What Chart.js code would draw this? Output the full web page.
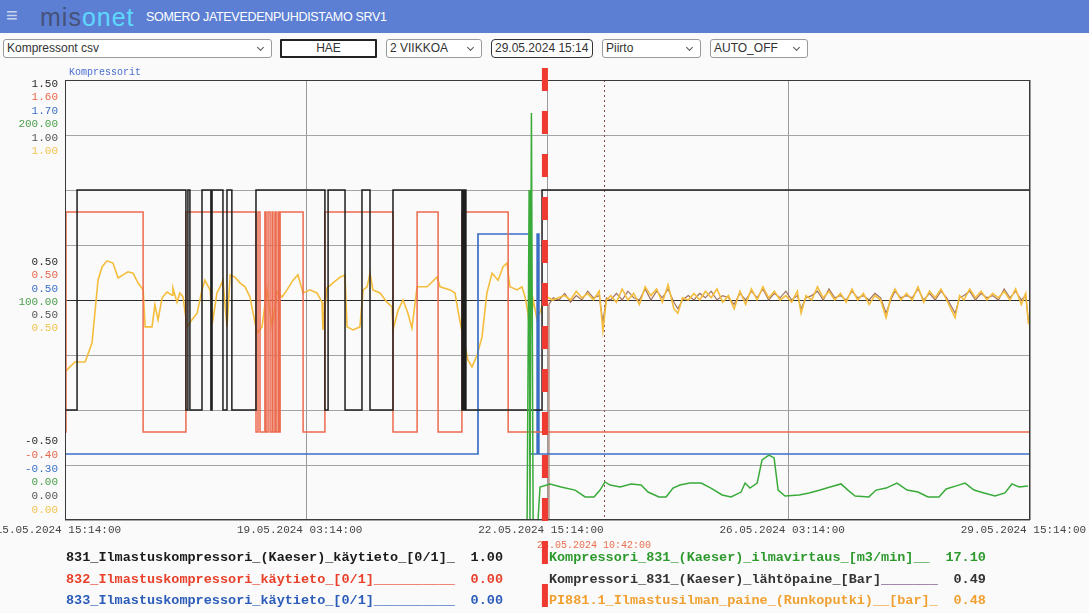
<!DOCTYPE html>
<html lang="fi">
<head>
<meta charset="UTF-8">
<title>SOMERO JATEVEDENPUHDISTAMO SRV1</title>
<script src="https://cdn.jsdelivr.net/npm/chart.js"></script>
<style>
    body {
        margin: 0;
        width: 1089px;
        height: 613px;
        overflow: hidden;
        background: #fafafa;
        font-family: "Liberation Sans", Arial, sans-serif;
        position: relative;
    }
    .hdr {
        position: absolute; left: 0; top: 0; width: 1089px; height: 33px;
        background: #5c7fd3;
    }
    .burger { position: absolute; left: 6px; top: 4px; color: #c9d3ee; font-size: 20px; }
    .logo { position: absolute; left: 40px; top: 3px; font-size: 25px; letter-spacing: 1px; }
    .mis { color: #46527a; }
    .net { color: #5fd8ff; }
    .title { position: absolute; left: 146px; top: 10px; color: #fff; font-size: 12.5px; letter-spacing: -0.3px; }
    .ctl {
        position: absolute; top: 39px; height: 19px; box-sizing: border-box;
        border: 1px solid #9a9a9a; border-radius: 3px; background: #fff;
        font-size: 12px; color: #333; line-height: 17px; padding-left: 3px;
        white-space: nowrap;
    }
    .ctl .arr {
        position: absolute; right: 8px; top: 5px; width: 4px; height: 4px;
        border-right: 1px solid #555; border-bottom: 1px solid #555; transform: rotate(45deg);
    }
    .btn { border: 2px solid #222; border-radius: 1px; text-align: center; padding: 0; line-height: 15px; }
    .inp { border: 1.5px solid #333; border-radius: 4px; }
    #wrap { position: absolute; left: 0; top: 62px; width: 1089px; height: 551px; }
</style>
</head>
<body>
<div class="hdr">
    <span class="burger">&#8801;</span>
    <span class="logo"><span class="mis">mis</span><span class="net">onet</span></span>
    <span class="title">SOMERO JATEVEDENPUHDISTAMO SRV1</span>
</div>
<div class="ctl" style="left:3px;width:269px">Kompressont csv<span class="arr"></span></div>
<div class="ctl btn" style="left:280px;width:97px">HAE</div>
<div class="ctl" style="left:386px;width:96px">2 VIIKKOA<span class="arr"></span></div>
<div class="ctl inp" style="left:491px;width:102px">29.05.2024 15:14</div>
<div class="ctl" style="left:602px;width:99px">Piirto<span class="arr"></span></div>
<div class="ctl" style="left:710px;width:98px">AUTO_OFF<span class="arr"></span></div>
<div id="wrap"><canvas id="trend"></canvas></div>

<script>
// time axis: hours since 15.05.2024 15:14
const xTickHours = [0, 84, 168, 252, 336];
const xTickLabels = ['15.05.2024 15:14:00', '19.05.2024 03:14:00', '22.05.2024 15:14:00',
    '26.05.2024 03:14:00', '29.05.2024 15:14:00'];

// left scale label stacks (one line per series)
const yLabelsTop = ['1.50', '1.60', '1.70', '200.00', '1.00', '1.00'];
const yLabelsMid = ['0.50', '0.50', '0.50', '100.00', '0.50', '0.50'];
const yLabelsBottom = ['-0.50', '-0.40', '-0.30', '0.00', '0.00', '0.00'];

// [hour, state] - state changes of the on/off signals
const k831 = [[0, 0], [4.2, 1], [42.1, 0], [42.8, 1], [43.5, 0], [47.7, 1], [50.8, 0], [51.2, 1],
    [55.0, 0], [56.4, 1], [58.1, 0], [66.5, 1], [90.5, 0], [91.6, 1], [97.5, 0], [103.4, 1],
    [106.2, 0], [114.2, 1], [138.2, 0], [138.6, 1], [139.0, 0], [139.3, 1], [139.6, 0],
    [166.1, 1], [336, 1]];
const k832 = [[0, 0], [0.35, 1], [27.2, 0], [42.1, 1], [66.5, 0], [67.2, 1], [67.9, 0], [69.6, 1],
    [70.0, 0], [70.7, 1], [71.4, 0], [72.1, 1], [72.4, 0], [73.1, 1], [73.5, 0], [74.2, 1],
    [74.5, 0], [74.9, 1], [82.9, 0], [90.5, 1], [114.2, 0], [122.6, 1], [129.9, 0], [138.2, 1],
    [154.3, 0], [336, 0]];
const k833 = [[0, 0], [143.8, 1], [161.9, 0], [164.4, 1], [165.0, 0], [336, 0]];

// [hour, m3/min]
const airflow = [[0, 0], [160.9, 0], [161.6, 150], [161.9, 0], [162.4, 185], [163.0, 0], [164.7, 0],
    [165.4, 15.0], [168.9, 16.4], [172.7, 15.0], [177.6, 13.6], [181.1, 10.5], [184.2, 10.5],
    [186.3, 13.6], [188.0, 17.3], [189.8, 15.9], [193.3, 15.0], [197.1, 16.4], [200.6, 15.9],
    [203.0, 12.7], [206.8, 10.5], [209.3, 10.5], [211.7, 14.5], [214.1, 15.9], [217.6, 16.8],
    [221.5, 16.8], [224.9, 14.5], [228.8, 11.4], [231.9, 10.5], [235.4, 12.7], [236.8, 16.8],
    [238.5, 14.5], [241.0, 16.8], [242.7, 27.3], [245.1, 29.5], [246.9, 28.2], [248.3, 13.6],
    [250.7, 10.9], [255.6, 11.4], [259.1, 12.3], [262.9, 13.6], [266.4, 15.0], [270.2, 16.4],
    [272.6, 13.6], [275.1, 10.9], [279.9, 10.5], [282.4, 13.6], [285.9, 14.5], [289.7, 16.8],
    [293.2, 13.6], [297.0, 12.7], [300.5, 10.5], [304.3, 10.5], [306.8, 14.1], [310.3, 15.5],
    [313.4, 16.8], [316.5, 13.6], [320.0, 12.3], [323.8, 10.9], [327.3, 12.3], [329.7, 16.4],
    [332.2, 15.0], [335.3, 15.5]];

// [hour, bar]
const outletPressure = [[0, 0], [168.4, 0], [168.5, 0.49], [170, 0.505], [172, 0.50], [174, 0.515],
    [176, 0.495], [178, 0.51], [180, 0.50], [182, 0.52], [184, 0.505], [186, 0.51], [187.3, 0.45],
    [188.5, 0.505], [190, 0.50], [192, 0.515], [194, 0.50], [196, 0.52], [198, 0.505], [200, 0.50],
    [202, 0.525], [204, 0.50], [206, 0.52], [208, 0.505], [210, 0.525], [212, 0.495], [213.4, 0.48],
    [215, 0.50], [217, 0.51], [219, 0.50], [221, 0.515], [223, 0.505], [225, 0.52], [227, 0.50],
    [229, 0.51], [231, 0.505], [233, 0.49], [235, 0.515], [237, 0.50], [239, 0.52], [241, 0.505],
    [243, 0.525], [245, 0.50], [247, 0.515], [249, 0.505], [251, 0.52], [253, 0.50], [255, 0.51],
    [256.3, 0.48], [258, 0.505], [260, 0.51], [262, 0.52], [264, 0.50], [266, 0.525], [268, 0.505],
    [270, 0.51], [272, 0.50], [274, 0.52], [276, 0.505], [278, 0.51], [280, 0.50], [282, 0.515],
    [284, 0.505], [285.9, 0.47], [287.5, 0.50], [289, 0.52], [291, 0.505], [293, 0.51], [295, 0.505],
    [297, 0.525], [299, 0.50], [301, 0.515], [303, 0.50], [305, 0.52], [307, 0.505], [309.9, 0.47],
    [311.5, 0.505], [313, 0.51], [315, 0.52], [317, 0.50], [319, 0.515], [321, 0.505], [323, 0.51],
    [325, 0.50], [327, 0.525], [329, 0.505], [331, 0.52], [333, 0.50], [334.5, 0.51], [335.5, 0.45]];

const mainPressure = [[0, 0.336], [1.7, 0.348], [3.5, 0.359], [7.0, 0.359], [9.4, 0.402], [10.4, 0.470],
    [11.5, 0.545], [12.9, 0.575], [14.6, 0.589], [16.7, 0.584], [18.5, 0.550], [20.2, 0.557],
    [21.9, 0.564], [23.7, 0.561], [25.4, 0.539], [27.2, 0.523], [27.9, 0.439], [30.3, 0.439],
    [31.3, 0.489], [32.4, 0.455], [33.8, 0.505], [35.5, 0.518], [37.3, 0.511], [37.6, 0.527],
    [39.0, 0.495], [40.0, 0.516], [41.1, 0.507], [42.5, 0.439], [44.2, 0.455], [46.0, 0.470],
    [47.7, 0.523], [48.7, 0.545], [50.5, 0.523], [51.5, 0.455], [52.9, 0.516], [54.0, 0.530],
    [55.0, 0.545], [56.4, 0.439], [57.5, 0.557], [59.2, 0.552], [60.9, 0.539], [62.7, 0.530],
    [64.4, 0.507], [65.5, 0.470], [66.9, 0.425], [68.6, 0.439], [70.3, 0.523], [72.1, 0.439],
    [73.8, 0.518], [75.6, 0.507], [77.3, 0.523], [79.4, 0.545], [81.1, 0.557], [82.9, 0.516],
    [85.3, 0.523], [87.7, 0.516], [89.5, 0.495], [89.8, 0.432], [91.2, 0.527], [93.3, 0.539],
    [95.8, 0.552], [97.5, 0.557], [98.2, 0.439], [100.3, 0.432], [102.7, 0.439], [103.8, 0.523],
    [105.2, 0.530], [106.2, 0.561], [107.2, 0.523], [109.7, 0.516], [112.1, 0.495], [113.9, 0.484],
    [114.2, 0.432], [116.0, 0.477], [117.7, 0.500], [119.4, 0.470], [120.8, 0.436], [122.6, 0.530],
    [126.1, 0.530], [129.5, 0.552], [130.6, 0.530], [134.1, 0.523], [135.8, 0.516], [136.8, 0.477],
    [138.6, 0.416], [140.3, 0.364], [141.7, 0.348], [143.5, 0.375], [145.2, 0.416], [146.9, 0.516],
    [148.7, 0.561], [150.8, 0.545], [152.5, 0.575], [153.9, 0.584], [154.9, 0.530], [157.4, 0.523],
    [159.1, 0.530], [160.2, 0.507], [161.2, 0.470], [161.9, 0.420], [163.0, 0.500], [164.4, 0.455],
    [166.1, 0.484], [167.8, 0.507], [169.9, 0.500], [172.4, 0.507], [174, 0.51], [176, 0.50],
    [178, 0.52], [180, 0.505], [182, 0.515], [184, 0.50], [186, 0.52], [187.3, 0.43], [188.5, 0.50],
    [190, 0.51], [192, 0.495], [194, 0.525], [196, 0.50], [198, 0.515], [200, 0.49], [202, 0.53],
    [204, 0.51], [206, 0.525], [208, 0.495], [210, 0.535], [212, 0.48], [213.4, 0.47], [215, 0.505],
    [217, 0.50], [219, 0.515], [221, 0.50], [223, 0.52], [225, 0.505], [227, 0.525], [229, 0.495],
    [231, 0.51], [233, 0.48], [235, 0.52], [237, 0.49], [239, 0.525], [241, 0.50], [243, 0.53],
    [245, 0.505], [247, 0.52], [249, 0.50], [251, 0.51], [253, 0.495], [255, 0.52], [256.3, 0.47],
    [258, 0.51], [260, 0.50], [262, 0.53], [264, 0.505], [266, 0.52], [268, 0.50], [270, 0.515],
    [272, 0.495], [274, 0.525], [276, 0.50], [278, 0.515], [280, 0.49], [282, 0.51], [284, 0.50],
    [285.9, 0.46], [287.5, 0.505], [289, 0.525], [291, 0.50], [293, 0.515], [295, 0.50], [297, 0.53],
    [299, 0.495], [301, 0.52], [303, 0.505], [305, 0.525], [307, 0.50], [309.9, 0.46], [311.5, 0.51],
    [313, 0.50], [315, 0.525], [317, 0.505], [319, 0.52], [321, 0.50], [323, 0.515], [325, 0.505],
    [327, 0.52], [329, 0.50], [331, 0.525], [333, 0.49], [334.5, 0.515], [335.5, 0.445]];

const legendNames = ['831_Ilmastuskompressori_(Kaeser)_käytieto_[0/1]_',
    '832_Ilmastuskompressori_käytieto_[0/1]__________',
    '833_Ilmastuskompressori_käytieto_[0/1]__________',
    'Kompressori_831_(Kaeser)_ilmavirtaus_[m3/min]__',
    'Kompressori_831_(Kaeser)_lähtöpaine_[Bar]_______',
    'PI881.1_Ilmastusilman_paine_(Runkoputki)__[bar]_'];
const legendValues = ['1.00', '0.00', '0.00', '17.10', '0.49', '0.48'];

const markerHour = 167.1;       // red dashed marker
const cursorHour = 187.7;       // dotted read-out cursor
const cursorLabel = '23.05.2024 10:42:00';

const lineColors = ['#1e1e1e', '#ec6a4e', '#3b6fc6', '#3aab3a', '#a0705e', '#f4bd3c'];
const labelColors = ['#2a2a2a', '#e8674c', '#3b6fc6', '#4a9e4a', '#555555', '#f2c450'];
const textColors = ['#1a1a1a', '#e8402a', '#2a5cb8', '#2e9a2e', '#333333', '#f0a030'];
const underColors = ['#1a1a1a', '#e8402a', '#2a5cb8', '#2e9a2e', '#6a3d7a', '#f0a030'];

const toXY = arr => arr.map(p => ({ x: p[0], y: p[1] }));
const MONO = '"Liberation Mono", "DejaVu Sans Mono", monospace';

const overlay = {
    id: 'overlay',
    beforeDatasetsDraw(chart) {
        const { ctx, chartArea: a, scales } = chart;
        const xc = Math.round(scales.x.getPixelForValue(cursorHour)) + 0.5;
        ctx.save();
        ctx.strokeStyle = '#8a4848';
        ctx.lineWidth = 1;
        ctx.setLineDash([2, 3]);
        ctx.beginPath();
        ctx.moveTo(xc, a.top);
        ctx.lineTo(xc, a.bottom);
        ctx.stroke();
        ctx.restore();
    },
    afterDraw(chart) {
        const { ctx, chartArea: a, scales } = chart;
        const yb = scales.y;
        ctx.save();
        // frame
        ctx.strokeStyle = '#3a3a3a';
        ctx.lineWidth = 1;
        ctx.strokeRect(a.left + 0.5, a.top + 0.5, a.right - a.left - 1, a.bottom - a.top - 1);

        // title of the scale
        ctx.font = '10px ' + MONO;
        ctx.fillStyle = '#4a6fd0';
        ctx.textAlign = 'left';
        ctx.textBaseline = 'middle';
        ctx.fillText('Kompressorit', a.left + 4, a.top - 8);

        // stacked scale labels
        ctx.font = '11px ' + MONO;
        ctx.textAlign = 'right';
        const lx = a.left - 7;
        const yTop = yb.getPixelForValue(1.5);
        const yMid = yb.getPixelForValue(0.5);
        const yBot = yb.getPixelForValue(-0.5);
        for (let i = 0; i < 6; i++) {
            ctx.fillStyle = labelColors[i];
            ctx.fillText(yLabelsTop[i], lx, yTop + 4 + i * 13.5);
            ctx.fillText(yLabelsMid[i], lx, yMid - 38 + i * 13.3);
            ctx.fillText(yLabelsBottom[i], lx, yBot - 79 + i * 13.8);
        }

        // cursor time label
        const xr = scales.x.getPixelForValue(markerHour);
        ctx.font = '10px ' + MONO;
        ctx.textAlign = 'left';
        ctx.fillStyle = '#e8704e';
        ctx.fillText(cursorLabel, xr - 8, a.bottom + 25);

        // legend
        ctx.font = 'bold 13.5px ' + MONO;
        const cols = [a.left + 1, xr + 4];
        const rows = [a.bottom + 38, a.bottom + 60, a.bottom + 81];
        const colW = 437;
        legendNames.forEach((name, i) => {
            const x = cols[Math.floor(i / 3)];
            const y = rows[i % 3];
            const core = name.replace(/_+$/, '');
            const tail = name.slice(core.length);
            ctx.textAlign = 'left';
            ctx.fillStyle = textColors[i];
            ctx.fillText(core, x, y);
            ctx.fillStyle = underColors[i];
            ctx.fillText(tail, x + ctx.measureText(core).width, y);
            ctx.fillStyle = textColors[i];
            ctx.textAlign = 'right';
            ctx.fillText(legendValues[i], x + colW, y);
        });

        // red dashed marker
        ctx.strokeStyle = '#ee3a30';
        ctx.lineWidth = 6;
        ctx.setLineDash([23, 20]);
        ctx.beginPath();
        ctx.moveTo(xr, 6);
        ctx.lineTo(xr, chart.height - 3);
        ctx.stroke();
        ctx.restore();
    }
};

function lineSet(label, data, axis, color, width, stepped, order) {
    return {
        label: label,
        data: toXY(data),
        yAxisID: axis,
        borderColor: color,
        borderWidth: width,
        pointRadius: 0,
        fill: false,
        tension: 0,
        stepped: stepped,
        order: order
    };
}

new Chart(document.getElementById('trend'), {
    type: 'line',
    data: {
        datasets: [
            lineSet(legendNames[0], k831, 'y', lineColors[0], 1.5, true, 2),
            lineSet(legendNames[1], k832, 'yRed', lineColors[1], 1.5, true, 3),
            lineSet(legendNames[2], k833, 'yBlue', lineColors[2], 1.7, true, 4),
            lineSet(legendNames[3], airflow, 'yGreen', lineColors[3], 1.5, false, 1),
            lineSet(legendNames[4], outletPressure, 'yPurple', lineColors[4], 1.2, false, 7),
            lineSet(legendNames[5], mainPressure, 'yOrange', lineColors[5], 1.6, false, 6)
        ]
    },
    options: {
        responsive: true,
        maintainAspectRatio: false,
        animation: false,
        layout: { padding: { top: 18, right: 59, bottom: 73, left: 0 } },
        plugins: { legend: { display: false }, tooltip: { enabled: false } },
        scales: {
            x: {
                type: 'linear',
                min: 0,
                max: 336,
                afterBuildTicks: s => { s.ticks = xTickHours.map(v => ({ value: v })); },
                afterFit: s => { s.height = 20; s.paddingLeft = 0; s.paddingRight = 0; },
                grid: { color: '#9a9a9a', lineWidth: 1, drawTicks: false },
                border: { display: false },
                ticks: {
                    autoSkip: false,
                    maxRotation: 0,
                    padding: 3,
                    color: '#444',
                    font: { family: MONO, size: 11 },
                    callback: (v, i) => xTickLabels[i] + '  '
                }
            },
            y: {
                min: -0.5,
                max: 1.5,
                afterFit: s => { s.width = 65; },
                grid: {
                    color: c => (c.tick && c.tick.value === 0.5) ? '#2a2a2a' : '#a4a4a4',
                    lineWidth: 1,
                    drawTicks: false
                },
                border: { display: false },
                ticks: { display: false, stepSize: 0.25 }
            },
            yRed: { display: false, min: -0.4, max: 1.6 },
            yBlue: { display: false, min: -0.3, max: 1.7 },
            yGreen: { display: false, min: 0, max: 200 },
            yPurple: { display: false, min: 0, max: 1 },
            yOrange: { display: false, min: 0, max: 1 }
        }
    },
    plugins: [overlay]
});
</script>
</body>
</html>
